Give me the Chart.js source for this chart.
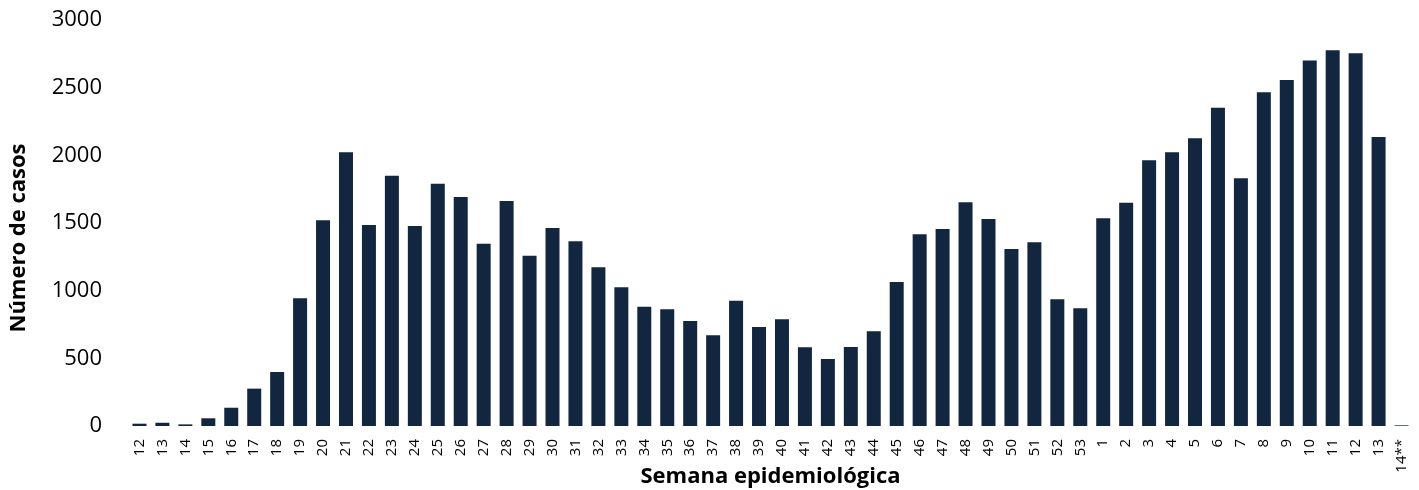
<!DOCTYPE html>
<html>
<head>
<meta charset="utf-8">
<script src="https://cdn.jsdelivr.net/npm/chart.js@4/dist/chart.umd.min.js"></script>
<style>
  html, body { margin: 0; padding: 0; background: #ffffff; }
  #wrap { width: 1419px; height: 490px; position: relative; }
</style>
</head>
<body>
<div id="wrap"><canvas id="c" width="1419" height="490"></canvas></div>
<script>
const weeks = ['12','13','14','15','16','17','18','19','20','21','22','23','24','25','26','27','28','29','30','31','32','33','34','35','36','37','38','39','40','41','42','43','44','45','46','47','48','49','50','51','52','53','1','2','3','4','5','6','7','8','9','10','11','12','13','14**'];
const cases = [17,24,12,57,135,276,399,944,1520,2023,1485,1850,1478,1790,1692,1347,1663,1258,1463,1365,1173,1025,882,862,776,670,926,732,788,581,495,584,700,1064,1417,1456,1653,1530,1308,1358,936,870,1535,1650,1963,2023,2126,2352,1830,2466,2557,2700,2777,2754,2136,5];
const yTicks = [0,500,1000,1500,2000,2500,3000];
const yTitle = 'Número de casos';
const xTitle = 'Semana epidemiológica';

const FONT = "'Open Sans', 'Liberation Sans', sans-serif";
const TEXT = '#000000';

// y-axis title drawn slightly below the plot centre, as in the reference
const yTitlePlugin = {
  id: 'yTitle',
  afterDraw(chart) {
    const ctx = chart.ctx;
    const area = chart.chartArea;
    ctx.save();
    ctx.translate(19, area.top + (area.bottom - area.top) / 2 + 15);
    ctx.rotate(-Math.PI / 2);
    ctx.font = "bold 22px " + FONT;
    ctx.fillStyle = TEXT;
    ctx.textAlign = 'center';
    ctx.textBaseline = 'middle';
    ctx.fillText(yTitle, 0, 0);
    ctx.restore();
  }
};

new Chart(document.getElementById('c'), {
  type: 'bar',
  data: {
    labels: weeks,
    datasets: [{
      data: cases,
      backgroundColor: '#13263f',
      borderWidth: 0,
      barPercentage: 0.61,
      categoryPercentage: 1.0
    }]
  },
  plugins: [yTitlePlugin],
  options: {
    responsive: false,
    animation: false,
    events: [],
    layout: { padding: { left: 0, right: 6, top: 20, bottom: 0 } },
    plugins: { legend: { display: false }, tooltip: { enabled: false } },
    scales: {
      x: {
        grid: { display: false, drawTicks: false },
        border: { display: false },
        ticks: {
          color: TEXT,
          font: { family: FONT, size: 15 },
          minRotation: 90,
          maxRotation: 90,
          autoSkip: false,
          padding: 13
        },
        title: {
          display: true,
          text: xTitle,
          color: TEXT,
          font: { family: FONT, size: 22, weight: 'bold' },
          padding: { top: 0, bottom: 0 }
        },
        afterFit: (s) => { s.height = 64; s.paddingLeft = 0; s.paddingRight = 0; }
      },
      y: {
        min: 0,
        max: 3000,
        grid: { display: false, drawTicks: false },
        border: { display: false },
        afterBuildTicks: (s) => { s.ticks = yTicks.map(v => ({ value: v })); },
        ticks: {
          color: TEXT,
          font: { family: FONT, size: 22 },
          padding: 26,
          callback: (v) => String(v)
        },
        title: { display: false },
        afterFit: (s) => { s.width = 128; s.paddingTop = 0; s.paddingBottom = 0; }
      }
    }
  }
});
</script>
</body>
</html>
